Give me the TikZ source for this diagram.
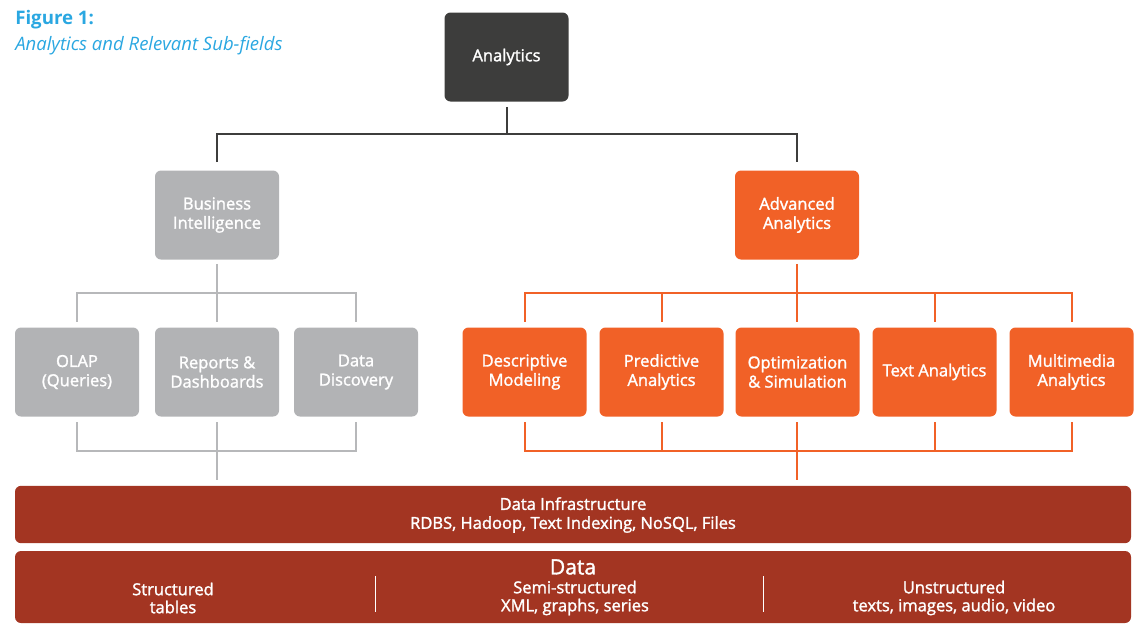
\documentclass[tikz,border=0pt]{standalone}
\usepackage{fontspec}
\setmainfont{Open Sans}
\newfontfamily\semib{Open Sans}[FakeBold=1.6]
\definecolor{titleblue}{HTML}{2AA7E1}
\definecolor{boxdark}{HTML}{3D3D3C}
\definecolor{boxgray}{HTML}{B2B3B5}
\definecolor{boxorange}{HTML}{F16127}
\definecolor{barred}{HTML}{A33522}
\definecolor{linegray}{HTML}{B7B8BA}
\tikzset{
  box/.style={rounded corners=4.5pt, minimum width=93pt, minimum height=66.75pt, text=white, align=center, inner sep=0pt,
    font=\semib\fontsize{12.4}{14.4}\selectfont},
  darkbox/.style={box, fill=boxdark},
  graybox/.style={box, fill=boxgray},
  orangebox/.style={box, fill=boxorange},
  bar/.style={rounded corners=4.5pt, fill=barred, minimum width=837pt, inner sep=0pt},
  bartext/.style={text=white, align=center, font=\semib\fontsize{12.4}{14.2}\selectfont},
  dl/.style={draw=boxdark, line width=1.5pt},
  gl/.style={draw=linegray, line width=1.5pt},
  ol/.style={draw=boxorange, line width=1.5pt},
}
\begin{document}
\begin{tikzpicture}[x=0.75pt,y=-0.75pt]
\useasboundingbox (0,0) rectangle (1142,628);
% title
\node[anchor=west, inner sep=0pt, text=titleblue, font=\fontsize{14}{16}\selectfont\bfseries] (t1) at (15,20) {Figure 1:};
\node[anchor=west, inner sep=0pt, text=titleblue, font=\fontsize{13.9}{16}\selectfont\itshape] (t2) at (15,46) {Analytics and Relevant Sub-fields};
% top
\node[darkbox] (an) at (506.5,57) {Analytics};
\node[graybox] (bi) at (217,215) {Business\\Intelligence};
\node[orangebox] (aa) at (797,215) {Advanced\\Analytics};
% gray row
\node[graybox] (ol) at (77,372) {OLAP\\(Queries)};
\node[graybox] (rp) at (217,372) {Reports \&\\Dashboards};
\node[graybox] (dd) at (356,372) {Data\\Discovery};
% orange row
\node[orangebox] (dm) at (524.5,372) {Descriptive\\Modeling};
\node[orangebox] (pa) at (661.5,372) {Predictive\\Analytics};
\node[orangebox] (os) at (797.5,372) {Optimization\\\& Simulation};
\node[orangebox] (ta) at (934.5,372) {Text Analytics};
\node[orangebox] (ma) at (1071.5,372) {Multimedia\\Analytics};
% bars
\node[bar, minimum height=43pt] (infra) at (573,514.5) {};
\node[bartext] (infratext) at (573,515) {Data Infrastructure\\RDBS, Hadoop, Text Indexing, NoSQL, Files};
\node[bar, minimum height=54pt] (data) at (573,587) {};
\node[text=white, font=\semib\fontsize{15.8}{17}\selectfont, inner sep=0pt] (datatitle) at (573,567) {Data};
\node[bartext, font=\semib\fontsize{12.4}{13.5}\selectfont] (st) at (173,598) {Structured\\tables};
\node[bartext, font=\semib\fontsize{12.4}{13.5}\selectfont] (ss) at (575,598) {Semi-structured\\XML, graphs, series};
\node[bartext, font=\semib\fontsize{12.4}{13.5}\selectfont] (us) at (954,598) {Unstructured\\texts, images, audio, video};
\draw[white, line width=0.6pt] (375,576) -- (375,612);
\draw[white, line width=0.6pt] (763,576) -- (763,612);
% connectors: top
\coordinate (j1) at (506.5,134);
\draw[dl] ([yshift=-3.75pt]an.south) -- (j1);
\draw[dl] ([yshift=6pt]bi.north) |- (j1) -| ([yshift=6pt]aa.north);
% gray group
\coordinate (g1) at (217,293);
\coordinate (g2) at (217,451);
\draw[gl] ([yshift=-3pt]bi.south) -- ([yshift=4pt]rp.north);
\draw[gl] ([yshift=4pt]ol.north) |- (g1) -| ([yshift=4pt]dd.north);
\draw[gl] ([yshift=-4pt]ol.south) |- (g2) -| ([yshift=-4pt]dd.south);
\draw[gl] ([yshift=-4pt]rp.south) -- ([yshift=4.5pt]infra.north -| rp.south);
% orange group
\coordinate (o1) at (797,293);
\coordinate (o2) at (797,451);
\draw[ol] ([yshift=-3pt]aa.south) -- ([yshift=4pt]aa.south |- os.north);
\draw[ol] ([yshift=4pt]dm.north) |- (o1) -| ([yshift=4pt]ma.north);
\draw[ol] ([yshift=4pt]pa.north) -- (pa.north |- o1);
\draw[ol] ([yshift=4pt]ta.north) -- (ta.north |- o1);
\draw[ol] ([yshift=-4pt]dm.south) |- (o2) -| ([yshift=-4pt]ma.south);
\draw[ol] ([yshift=-4pt]pa.south) -- (pa.south |- o2);
\draw[ol] ([yshift=-4pt]ta.south) -- (ta.south |- o2);
\draw[ol] ([yshift=-4pt]aa.south |- os.south) -- ([yshift=4.5pt]infra.north -| aa.south);
\end{tikzpicture}
\end{document}
